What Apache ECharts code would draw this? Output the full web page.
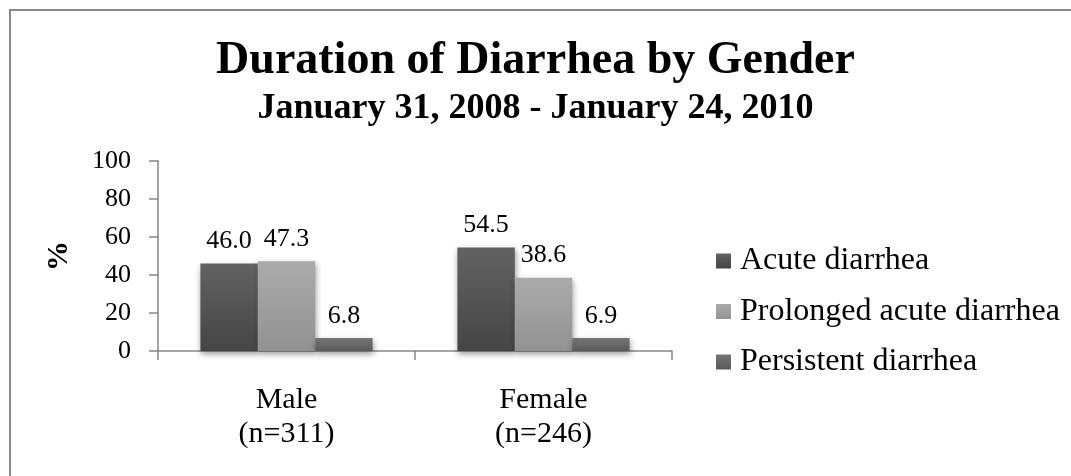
<!DOCTYPE html>
<html>
<head>
<meta charset="utf-8">
<script src="https://cdn.jsdelivr.net/npm/echarts@6/dist/echarts.min.js"></script>
<style>
html,body{margin:0;padding:0;background:#fff;}
#chart{width:1071px;height:476px;}
</style>
</head>
<body>
<div id="chart"></div>
<script>
var titleText = 'Duration of Diarrhea by Gender';
var subtitleText = 'January 31, 2008 - January 24, 2010';
var categories = ['Male\n(n=311)', 'Female\n(n=246)'];
var seriesNames = ['Acute diarrhea', 'Prolonged acute diarrhea', 'Persistent diarrhea'];
var acuteValues = [46.0, 54.5];
var prolongedValues = [47.3, 38.6];
var persistentValues = [6.8, 6.9];
var yTicks = [0, 20, 40, 60, 80, 100];

var FONT = '"Liberation Serif", "Times New Roman", serif';
function grad(top, bottom) {
  return new echarts.graphic.LinearGradient(0, 0, 0, 1, [
    { offset: 0, color: top }, { offset: 1, color: bottom }
  ]);
}
var colors = [grad('#626262', '#454545'), grad('#ababab', '#929292'), grad('#757575', '#5a5a5a')];
var valueLists = [acuteValues, prolongedValues, persistentValues];

var chart = echarts.init(document.getElementById('chart'), null, { renderer: 'canvas' });
var series = seriesNames.map(function (name, i) {
  return {
    name: name,
    type: 'bar',
    data: valueLists[i],
    barGap: '0%',
    barCategoryGap: '33%',
    itemStyle: {
      color: colors[i],
      shadowBlur: 6,
      shadowColor: 'rgba(0,0,0,0.4)',
      shadowOffsetX: 1,
      shadowOffsetY: 3
    },
    label: {
      show: true,
      position: 'top',
      distance: 9,
      formatter: function (p) { return p.value.toFixed(1); },
      fontFamily: FONT,
      fontSize: 26,
      color: '#000'
    },
    emphasis: { disabled: true }
  };
});

chart.setOption({
  animation: false,
  backgroundColor: '#fff',
  title: [
    { text: titleText, left: 'center', top: 38, padding: 0,
      textStyle: { fontFamily: FONT, fontSize: 46, fontWeight: 'bold', color: '#000', lineHeight: 46 } },
    { text: subtitleText, left: 'center', top: 91, padding: 0,
      textStyle: { fontFamily: FONT, fontSize: 36, fontWeight: 'bold', color: '#000', lineHeight: 36 } }
  ],
  graphic: [{
    type: 'rect', silent: true,
    shape: { x: 10, y: 10, width: 1200, height: 700 },
    style: { fill: 'none', stroke: '#8a8a8a', lineWidth: 2 }
  }],
  legend: {
    orient: 'vertical',
    left: 716, top: 245,
    itemWidth: 15, itemHeight: 15,
    itemGap: 18.5,
    icon: 'rect',
    padding: 0,
    selectedMode: false,
    textStyle: { fontFamily: FONT, fontSize: 32, lineHeight: 32, color: '#000', padding: [0, 0, 0, 4] },
    data: seriesNames
  },
  grid: { left: 158, right: 399, top: 161, bottom: 125, containLabel: false },
  xAxis: {
    type: 'category',
    data: categories,
    axisLine: { lineStyle: { color: '#868686', width: 1.5 } },
    axisTick: { show: true, length: 9, lineStyle: { color: '#868686', width: 1.5 } },
    axisLabel: { fontFamily: FONT, fontSize: 30, lineHeight: 34, color: '#000', margin: 32 }
  },
  yAxis: {
    type: 'value',
    min: 0, max: 100, interval: 20,
    name: '%',
    nameLocation: 'middle',
    nameGap: 84,
    nameTextStyle: { fontFamily: FONT, fontSize: 30, fontWeight: 'bold', color: '#000' },
    axisLine: { show: true, lineStyle: { color: '#868686', width: 1.5 } },
    axisTick: { show: true, length: 9, lineStyle: { color: '#868686', width: 1.5 } },
    splitLine: { show: false },
    axisLabel: {
      fontFamily: FONT, fontSize: 26, color: '#000', margin: 27,
      formatter: function (v) { return yTicks.indexOf(v) >= 0 ? String(v) : ''; }
    }
  },
  series: series
});
</script>
</body>
</html>
